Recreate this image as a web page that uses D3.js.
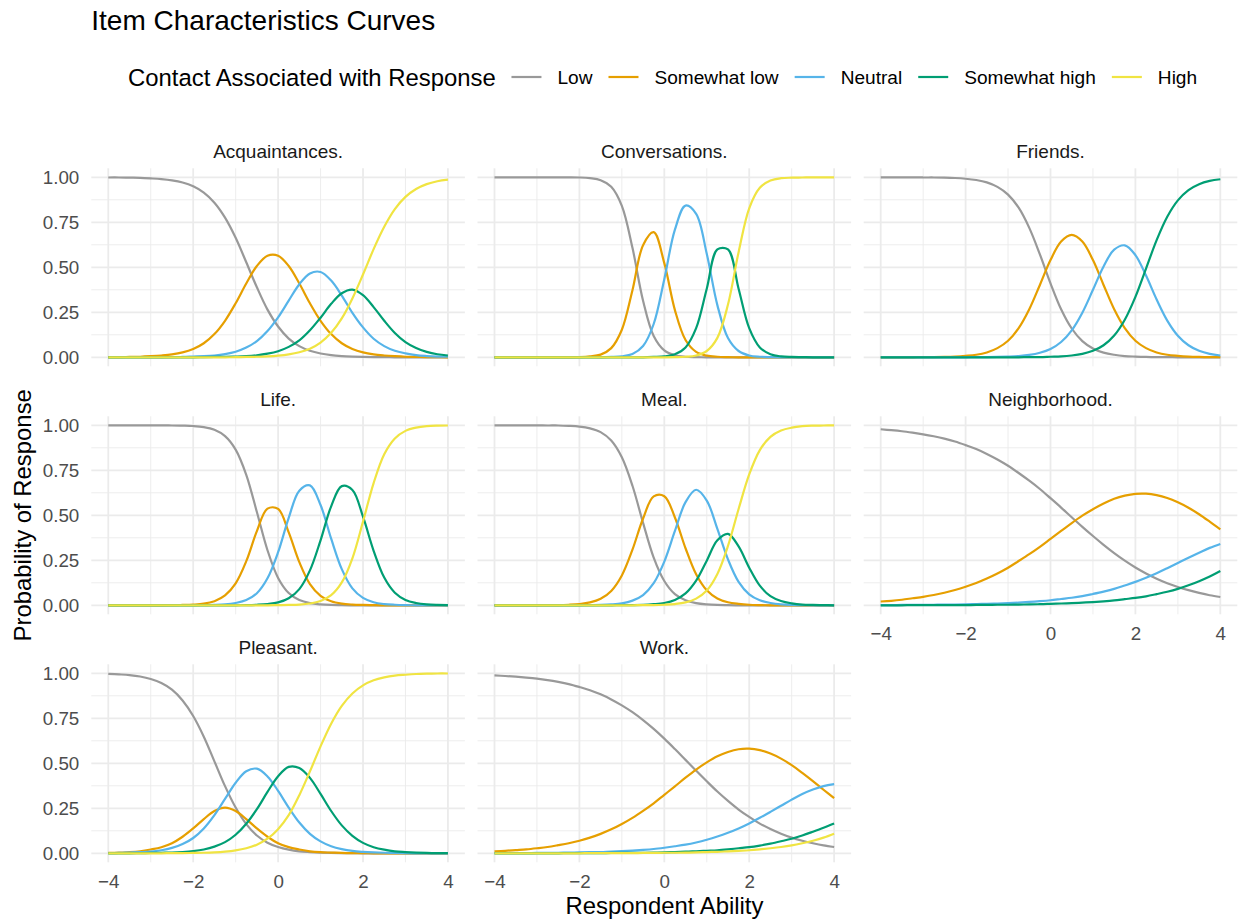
<!DOCTYPE html>
<html>
<head>
<meta charset="utf-8">
<script src="https://d3js.org/d3.v7.min.js"></script>
<style>
body { margin: 0; background: #fff; }
svg text { font-family: "Liberation Sans", Arial, Helvetica, sans-serif; }
</style>
</head>
<body>
<script>
// ability grid the curves were read at
var theta = [-4, -3.75, -3.5, -3.25, -3, -2.75, -2.5, -2.25, -2, -1.75, -1.5, -1.25, -1, -0.75, -0.5, -0.25,
             0, 0.25, 0.5, 0.75, 1, 1.25, 1.5, 1.75, 2, 2.25, 2.5, 2.75, 3, 3.25, 3.5, 3.75, 4];

var categories = ["Low", "Somewhat low", "Neutral", "Somewhat high", "High"];
var colors = ["#999999", "#E69F00", "#56B4E9", "#009E73", "#F0E442"];
var xTicks = [-4, -2, 0, 2, 4];
var xMinor = [-3, -1, 1, 3];
var yTicks = [0, 0.25, 0.5, 0.75, 1];
var yMinor = [0.125, 0.375, 0.625, 0.875];

// Acquaintances.
var acqLow = [.999,.999,.998,.997,.994,.990,.983,.971,.950,.915,.859,.776,.664,.528,.389,.265,.171,.104,.062,.036,.021,.012,.007,.004,.002,.001,.001,0,0,0,0,0,0];
var acqSomewhatLow = [.001,.001,.002,.003,.006,.010,.016,.027,.046,.078,.129,.203,.300,.410,.507,.564,.564,.507,.410,.300,.203,.129,.078,.046,.027,.016,.010,.006,.003,.002,.001,.001,0];
var acqNeutral = [0,0,0,0,0,0,.001,.002,.004,.006,.010,.018,.031,.054,.090,.146,.222,.315,.406,.466,.474,.426,.343,.247,.166,.103,.062,.036,.022,.012,.007,.004,.003];
var acqSomewhatHigh = [0,0,0,0,0,0,0,0,0,.001,.002,.003,.004,.006,.011,.020,.034,.058,.094,.150,.220,.297,.356,.376,.345,.279,.203,.135,.084,.051,.030,.017,.010];
var acqHigh = [0,0,0,0,0,0,0,0,0,0,0,0,.001,.002,.003,.005,.009,.016,.028,.048,.082,.136,.216,.327,.460,.601,.725,.823,.891,.935,.962,.978,.987];

// Conversations.
var conLow = [1,1,1,1,1,1,1,1,.999,.995,.984,.947,.841,.608,.314,.118,.038,.011,.003,.001,0,0,0,0,0,0,0,0,0,0,0,0,0];
var conSomewhatLow = [0,0,0,0,0,0,0,0,.001,.005,.015,.051,.153,.373,.623,.695,.523,.262,.096,.030,.009,.003,.001,0,0,0,0,0,0,0,0,0,0];
var conNeutral = [0,0,0,0,0,0,0,0,0,0,0,.002,.006,.019,.063,.185,.434,.709,.843,.797,.575,.290,.107,.035,.010,.003,.001,0,0,0,0,0,0];
var conSomewhatHigh = [0,0,0,0,0,0,0,0,0,0,0,0,0,0,0,.002,.005,.017,.055,.162,.381,.599,.599,.381,.162,.055,.017,.005,.002,.001,0,0,0];
var conHigh = [0,0,0,0,0,0,0,0,0,0,0,0,0,0,0,0,0,.001,.003,.010,.035,.108,.293,.584,.828,.942,.982,.995,.998,.999,1,1,1];

// Friends.
var friLow = [1,1,1,1,.999,.999,.998,.996,.992,.985,.972,.947,.904,.831,.719,.572,.411,.267,.160,.090,.049,.026,.014,.007,.004,.002,.001,.001,0,0,0,0,0];
var friSomewhatLow = [0,0,0,0,.001,.001,.002,.004,.008,.014,.027,.051,.092,.162,.267,.402,.540,.643,.680,.643,.540,.402,.267,.162,.092,.051,.027,.014,.008,.004,.002,.001,.001];
var friNeutral = [0,0,0,0,0,0,0,0,0,.001,.001,.002,.004,.007,.013,.025,.046,.085,.150,.248,.375,.505,.598,.622,.568,.454,.321,.204,.120,.067,.036,.019,.010];
var friSomewhatHigh = [0,0,0,0,0,0,0,0,0,0,0,0,0,0,.001,.001,.003,.005,.010,.019,.036,.067,.121,.209,.336,.493,.651,.781,.872,.929,.962,.980,.989];

// Life.
var lifLow = [1,1,1,1,1,1,.999,.998,.996,.990,.975,.940,.865,.725,.518,.306,.152,.068,.029,.012,.005,.002,.001,0,0,0,0,0,0,0,0,0,0];
var lifSomewhatLow = [0,0,0,0,0,0,.001,.002,.004,.009,.023,.055,.122,.245,.412,.537,.536,.405,.240,.118,.053,.022,.009,.004,.002,.001,0,0,0,0,0,0,0];
var lifNeutral = [0,0,0,0,0,0,0,0,0,.001,.002,.005,.013,.029,.067,.150,.295,.486,.637,.666,.557,.370,.201,.094,.041,.017,.007,.003,.001,0,0,0,0];
var lifSomewhatHigh = [0,0,0,0,0,0,0,0,0,0,0,0,0,.001,.003,.007,.016,.039,.090,.194,.361,.550,.662,.641,.492,.303,.154,.070,.030,.013,.005,.002,.001];
var lifHigh = [0,0,0,0,0,0,0,0,0,0,0,0,0,0,0,0,.001,.002,.004,.010,.024,.056,.127,.261,.465,.679,.839,.927,.969,.987,.995,.998,.999];

// Meal.
var meaLow = [1,1,1,1,1,.999,.999,.997,.993,.983,.962,.915,.822,.664,.458,.265,.135,.062,.028,.012,.005,.002,.001,0,0,0,0,0,0,0,0,0,0];
var meaSomewhatLow = [0,0,0,0,0,.001,.001,.003,.007,.016,.036,.080,.166,.309,.482,.605,.606,.488,.317,.172,.083,.038,.017,.008,.003,.001,0,0,0,0,0,0,0];
var meaNeutral = [0,0,0,0,0,0,0,0,0,.001,.002,.005,.011,.026,.057,.123,.243,.413,.573,.642,.582,.425,.255,.130,.061,.028,.013,.005,.002,.001,0,0,0];
var meaSomewhatHigh = [0,0,0,0,0,0,0,0,0,0,0,0,.001,.001,.002,.006,.013,.030,.066,.137,.248,.361,.397,.327,.209,.109,.051,.024,.011,.004,.002,.001,0];
var meaHigh = [0,0,0,0,0,0,0,0,0,0,0,0,0,0,.001,.001,.003,.007,.016,.037,.082,.174,.330,.535,.727,.862,.936,.971,.987,.995,.998,.999,1];

// Neighborhood.
var neiLow = [.978,.973,.967,.959,.950,.939,.926,.910,.890,.868,.841,.810,.775,.735,.692,.646,.595,.543,.489,.436,.385,.336,.290,.248,.210,.177,.148,.123,.102,.084,.069,.056,.046];
var neiSomewhatLow = [.021,.025,.031,.039,.047,.057,.070,.085,.103,.124,.149,.177,.209,.246,.284,.325,.369,.413,.457,.498,.534,.566,.592,.609,.619,.620,.612,.596,.572,.542,.506,.465,.422];
var neiNeutral = [.001,.001,.002,.002,.002,.003,.004,.004,.005,.007,.008,.010,.012,.015,.019,.023,.028,.035,.042,.051,.063,.076,.091,.110,.130,.153,.178,.206,.235,.264,.292,.319,.341];
var neiSomewhatHigh = [0,0,0,.001,.001,.001,.001,.001,.001,.002,.002,.003,.003,.004,.005,.006,.008,.010,.012,.015,.018,.022,.027,.034,.041,.050,.062,.075,.091,.111,.134,.160,.191];

// Pleasant.
var pleLow = [.997,.994,.990,.982,.968,.946,.909,.849,.763,.648,.511,.373,.254,.162,.099,.059,.035,.020,.011,.007,.004,.002,.001,.001,0,0,0,0,0,0,0,0,0];
var pleSomewhatLow = [.002,.004,.006,.011,.021,.034,.056,.092,.138,.190,.235,.254,.235,.190,.138,.092,.056,.034,.021,.011,.006,.004,.002,.001,.001,0,0,0,0,0,0,0,0];
var pleNeutral = [.001,.002,.004,.006,.009,.017,.030,.051,.085,.138,.212,.302,.392,.456,.470,.427,.347,.254,.171,.108,.066,.039,.023,.013,.008,.005,.003,.002,.001,0,0,0,0];
var pleSomewhatHigh = [0,0,0,.001,.002,.003,.004,.007,.012,.021,.037,.062,.103,.164,.245,.341,.428,.480,.474,.419,.330,.235,.155,.097,.058,.034,.020,.011,.007,.004,.002,.001,.001];
var pleHigh = [0,0,0,0,0,0,.001,.001,.002,.003,.005,.009,.016,.028,.048,.081,.134,.212,.323,.455,.594,.720,.819,.888,.933,.961,.977,.987,.992,.996,.998,.999,.999];

// Work.
var worLow = [.988,.985,.981,.976,.970,.962,.952,.940,.924,.906,.883,.855,.822,.784,.740,.691,.637,.579,.519,.459,.400,.343,.291,.243,.202,.165,.135,.109,.087,.070,.056,.044,.035];
var worSomewhatLow = [.011,.014,.018,.022,.028,.035,.045,.056,.070,.087,.108,.133,.163,.197,.236,.278,.325,.372,.420,.465,.505,.539,.563,.578,.581,.573,.554,.526,.490,.447,.401,.353,.306];
var worNeutral = [.001,.001,.001,.001,.002,.002,.003,.004,.005,.006,.007,.010,.012,.015,.019,.024,.031,.039,.048,.060,.075,.093,.114,.138,.166,.197,.230,.264,.298,.329,.354,.373,.384];
var worSomewhatHigh = [0,0,0,0,0,0,0,.001,.001,.001,.001,.002,.002,.003,.003,.004,.005,.007,.009,.011,.014,.017,.022,.028,.034,.043,.054,.067,.081,.099,.120,.142,.166];
var worHigh = [0,0,0,0,0,0,0,0,0,.001,.001,.001,.001,.001,.002,.002,.003,.003,.004,.005,.007,.008,.011,.014,.017,.022,.028,.035,.044,.056,.070,.087,.109];

var panels = [
  {title: "Acquaintances.", curves: [acqLow, acqSomewhatLow, acqNeutral, acqSomewhatHigh, acqHigh]},
  {title: "Conversations.", curves: [conLow, conSomewhatLow, conNeutral, conSomewhatHigh, conHigh]},
  {title: "Friends.", curves: [friLow, friSomewhatLow, friNeutral, friSomewhatHigh]},
  {title: "Life.", curves: [lifLow, lifSomewhatLow, lifNeutral, lifSomewhatHigh, lifHigh]},
  {title: "Meal.", curves: [meaLow, meaSomewhatLow, meaNeutral, meaSomewhatHigh, meaHigh]},
  {title: "Neighborhood.", curves: [neiLow, neiSomewhatLow, neiNeutral, neiSomewhatHigh]},
  {title: "Pleasant.", curves: [pleLow, pleSomewhatLow, pleNeutral, pleSomewhatHigh, pleHigh]},
  {title: "Work.", curves: [worLow, worSomewhatLow, worNeutral, worSomewhatHigh, worHigh]}
];

var W = 1239, H = 922;
var panelW = 373.6, panelH = 198;
var colX = [91.3, 477.5, 863.7];
var rowY = [168.3, 416.3, 664.3];

var svg = d3.select("body").append("svg").attr("width", W).attr("height", H);

var x = d3.scaleLinear().domain([-4.4, 4.4]).range([0, panelW]);
var y = d3.scaleLinear().domain([-0.05, 1.05]).range([panelH, 0]);

var line = d3.line()
  .x(function(d, i) { return x(theta[i]); })
  .y(function(d) { return y(d); })
  .curve(d3.curveCatmullRom.alpha(0.5));

var minus = function(d) { return d < 0 ? "\u2212" + Math.abs(d) : String(d); };

function styleTicks(g) {
  g.select(".domain").remove();
  g.selectAll("text")
    .style("font-size", "18.8px")
    .attr("fill", "#4D4D4D");
}

panels.forEach(function(p, i) {
  var col = i % 3, row = Math.floor(i / 3);
  var g = svg.append("g").attr("transform", "translate(" + colX[col] + "," + rowY[row] + ")");

  // grid
  g.selectAll(".xminor").data(xMinor).enter().append("line")
    .attr("x1", d => x(d)).attr("x2", d => x(d)).attr("y1", 0).attr("y2", panelH)
    .attr("stroke", "#EBEBEB").attr("stroke-width", 0.9);
  g.selectAll(".yminor").data(yMinor).enter().append("line")
    .attr("y1", d => y(d)).attr("y2", d => y(d)).attr("x1", 0).attr("x2", panelW)
    .attr("stroke", "#EBEBEB").attr("stroke-width", 0.9);
  g.selectAll(".xmajor").data(xTicks).enter().append("line")
    .attr("x1", d => x(d)).attr("x2", d => x(d)).attr("y1", 0).attr("y2", panelH)
    .attr("stroke", "#EBEBEB").attr("stroke-width", 1.8);
  g.selectAll(".ymajor").data(yTicks).enter().append("line")
    .attr("y1", d => y(d)).attr("y2", d => y(d)).attr("x1", 0).attr("x2", panelW)
    .attr("stroke", "#EBEBEB").attr("stroke-width", 1.8);

  // curves
  p.curves.forEach(function(vals, k) {
    g.append("path")
      .attr("d", line(vals))
      .attr("fill", "none")
      .attr("stroke", colors[k])
      .attr("stroke-width", 2.2);
  });

  // strip
  g.append("text")
    .attr("x", panelW / 2).attr("y", -10.6)
    .attr("text-anchor", "middle")
    .style("font-size", "19px")
    .attr("fill", "#1A1A1A")
    .text(p.title);

  if (col === 0) {
    g.append("g")
      .call(d3.axisLeft(y).tickValues(yTicks).tickSize(0).tickPadding(12).tickFormat(d3.format(".2f")))
      .call(styleTicks);
  }
  if (row === 2 || (row === 1 && col === 2)) {
    g.append("g").attr("transform", "translate(0," + panelH + ")")
      .call(d3.axisBottom(x).tickValues(xTicks).tickSize(0).tickPadding(12).tickFormat(minus))
      .call(styleTicks);
  }
});

// titles
svg.append("text").attr("x", 91.3).attr("y", 30)
  .style("font-size", "28px").attr("fill", "#000")
  .text("Item Characteristics Curves");

svg.append("text").attr("x", 664.5).attr("y", 914)
  .attr("text-anchor", "middle")
  .style("font-size", "23.9px").attr("fill", "#000")
  .text("Respondent Ability");

svg.append("text")
  .attr("transform", "translate(30.5,515.3) rotate(-90)")
  .attr("text-anchor", "middle")
  .style("font-size", "23.9px").attr("fill", "#000")
  .text("Probability of Response");

// legend
var legY = 77;
var legTitle = svg.append("text").attr("x", 128).attr("y", legY + 8.5)
  .style("font-size", "23.9px").attr("fill", "#000")
  .text("Contact Associated with Response");
var cx = 128 + legTitle.node().getComputedTextLength() + 15.6;
categories.forEach(function(c, k) {
  svg.append("line")
    .attr("x1", cx).attr("x2", cx + 30).attr("y1", legY).attr("y2", legY)
    .attr("stroke", colors[k]).attr("stroke-width", 2.2);
  var t = svg.append("text").attr("x", cx + 46).attr("y", legY + 6.8)
    .style("font-size", "19.1px").attr("fill", "#000")
    .text(c);
  cx = cx + 46 + t.node().getComputedTextLength() + 16;
});
</script>
</body>
</html>
